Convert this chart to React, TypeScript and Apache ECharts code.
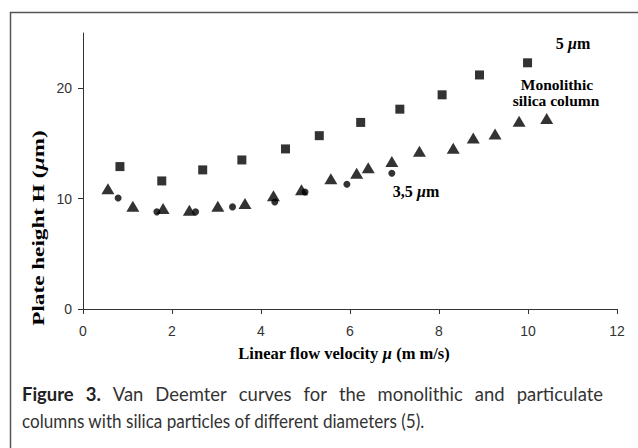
import React, { useEffect, useRef } from "react";
import * as echarts from "echarts";

// ---- data ----
const xTicks = [0, 2, 4, 6, 8, 10, 12];
const yTicks = [0, 10, 20];

// 5 µm particulate column (squares)
const p5X = [0.83, 1.77, 2.69, 3.57, 4.55, 5.31, 6.24, 7.12, 8.07, 8.91, 9.99];
const p5Y = [12.9, 11.6, 12.6, 13.5, 14.5, 15.7, 16.9, 18.1, 19.4, 21.2, 22.3];

// Monolithic silica column (triangles)
const monoX = [0.56, 1.12, 1.8, 2.39, 3.03, 3.64, 4.28, 4.91, 5.57, 6.15, 6.41, 6.94, 7.56, 8.32, 8.77, 9.26, 9.8, 10.42];
const monoY = [10.9, 9.3, 9.1, 8.95, 9.3, 9.55, 10.25, 10.8, 11.8, 12.3, 12.8, 13.35, 14.3, 14.55, 15.5, 15.85, 17.0, 17.25];

// 3,5 µm particulate column (circles)
const p35X = [0.79, 1.66, 2.53, 3.36, 4.31, 4.99, 5.93, 6.94];
const p35Y = [10.05, 8.8, 8.8, 9.25, 9.7, 10.6, 11.3, 12.3];

const captionLine1 = ["Figure", "3.", "Van", "Deemter", "curves", "for", "the", "monolithic", "and", "particulate"];
const captionBoldCount = 2;
const captionLine2 = "columns with silica particles of different diameters (5).";

const pair = (xs: number[], ys: number[]) => xs.map((x, i) => [x, ys[i]]);

export default function App() {
  const ref = useRef<HTMLDivElement>(null);

  useEffect(() => {
    if (!ref.current) return;
    const chart = echarts.init(ref.current, undefined, { renderer: "svg" });

    const capFont = 'Lato, "Open Sans", sans-serif';
    const capSize = 19;
    const canvas = document.createElement("canvas");
    const ctx = canvas.getContext("2d")!;
    ctx.font = `${capSize}px ${capFont}`;
    const line2W = ctx.measureText(captionLine2).width;
    const lineLeft = 22;
    const line2Right = 425;
    const sx2 = (line2Right - lineLeft) / line2W;
    const natural = captionLine1.map((w, i) => {
      ctx.font = `${i < captionBoldCount ? "bold " : ""}${capSize}px ${capFont}`;
      return ctx.measureText(w).width;
    });
    const lineRight = 603;
    const targetGap = 12;
    const naturalTotal = natural.reduce((a, b) => a + b, 0);
    const sx1 = (lineRight - lineLeft - targetGap * (captionLine1.length - 1)) / naturalTotal;
    const widths = natural.map((w) => w * sx1);
    const total = widths.reduce((a, b) => a + b, 0);
    const gap = (lineRight - lineLeft - total) / (captionLine1.length - 1);
    let cx = lineLeft;
    const captionEls: any[] = captionLine1.map((w, i) => {
      const el = {
        type: "text",
        x: cx,
        y: 394,
        scaleX: sx1,
        style: {
          text: w,
          fontFamily: capFont,
          fontSize: capSize,
          fontWeight: i < captionBoldCount ? "bold" : "normal",
          fill: i < captionBoldCount ? "#222" : "#333",
          textAlign: "left",
          verticalAlign: "middle",
        },
      };
      cx += widths[i] + gap;
      return el;
    });
    captionEls.push({
      type: "text",
      x: lineLeft,
      y: 421,
      scaleX: sx2,
      style: {
        text: captionLine2,
        fontFamily: capFont,
        fontSize: capSize,
        fill: "#333",
        textAlign: "left",
        verticalAlign: "middle",
      },
    });

    const serif = '"Liberation Serif", "Times New Roman", serif';
    const rich = (size: number) => ({
      b: { fontFamily: serif, fontWeight: "bold", fontSize: size, fill: "#000", color: "#000" },
      i: { fontFamily: serif, fontWeight: "bold", fontStyle: "italic", fontSize: size, fill: "#000", color: "#000" },
    });
    const tickFont = '"Liberation Sans", Arial, sans-serif';

    chart.setOption({
      animation: false,
      backgroundColor: "#fff",
      grid: { left: 83, right: 21, top: 33, bottom: 139, containLabel: false },
      xAxis: {
        type: "value",
        min: 0,
        max: 12,
        interval: 2,
        splitLine: { show: false },
        axisLine: { show: true, onZero: false, lineStyle: { color: "#333", width: 1 } },
        axisTick: { show: true, length: 5, lineStyle: { color: "#333" } },
        axisLabel: {
          margin: 15,
          fontFamily: tickFont,
          fontSize: 14,
          color: "#333",
          customValues: xTicks,
        },
      },
      yAxis: {
        type: "value",
        min: 0,
        max: 25,
        splitLine: { show: false },
        axisLine: { show: true, lineStyle: { color: "#333", width: 1 } },
        axisTick: { show: true, length: 5, lineStyle: { color: "#333" }, customValues: yTicks },
        axisLabel: {
          margin: 11,
          fontFamily: tickFont,
          fontSize: 14,
          color: "#333",
          customValues: yTicks,
        },
      },
      series: [
        {
          name: "5 µm",
          type: "scatter",
          symbol: "rect",
          symbolSize: 9,
          itemStyle: { color: "#000" },
          data: pair(p5X, p5Y),
        },
        {
          name: "Monolithic silica column",
          type: "scatter",
          symbol: "triangle",
          symbolSize: [13, 11],
          itemStyle: { color: "#000" },
          data: pair(monoX, monoY),
        },
        {
          name: "3,5 µm",
          type: "scatter",
          symbol: "circle",
          symbolSize: 7,
          itemStyle: { color: "#000" },
          data: pair(p35X, p35Y),
        },
      ],
      graphic: [
        { type: "line", shape: { x1: 10.5, y1: 12, x2: 10.5, y2: 448 }, style: { stroke: "#555", lineWidth: 1.5 } },
        { type: "line", shape: { x1: 10, y1: 12.5, x2: 638, y2: 12.5 }, style: { stroke: "#555", lineWidth: 1.5 } },
        {
          type: "text",
          x: 344,
          y: 353,
          style: {
            text: "{b|Linear flow velocity }{i|µ}{b| (m m/s)}",
            rich: rich(16.5),
            textAlign: "center",
            verticalAlign: "middle",
          },
        },
        {
          type: "text",
          x: 38,
          y: 228,
          rotation: Math.PI / 2,
          scaleX: 1.45,
          style: {
            text: "{b|Plate height H (}{i|µ}{b|m)}",
            rich: rich(16),
            textAlign: "center",
            verticalAlign: "middle",
          },
        },
        {
          type: "text",
          x: 573,
          y: 43,
          style: { text: "{b|5 }{i|µ}{b|m}", rich: rich(16), textAlign: "center", verticalAlign: "middle" },
        },
        {
          type: "text",
          x: 557,
          y: 84.5,
          style: {
            text: "Monolithic",
            fontFamily: serif,
            fontWeight: "bold",
            fontSize: 15.5,
            fill: "#000",
            textAlign: "center",
            verticalAlign: "middle",
          },
        },
        {
          type: "text",
          x: 556,
          y: 100.5,
          style: {
            text: "silica column",
            fontFamily: serif,
            fontWeight: "bold",
            fontSize: 15.5,
            fill: "#000",
            textAlign: "center",
            verticalAlign: "middle",
          },
        },
        {
          type: "text",
          x: 416,
          y: 191,
          style: { text: "{b|3,5 }{i|µ}{b|m}", rich: rich(16), textAlign: "center", verticalAlign: "middle" },
        },
        ...captionEls,
      ],
    });

    return () => chart.dispose();
  }, []);

  return (
    <div
      ref={ref}
      style={{ position: "absolute", left: 0, top: 0, width: 638, height: 448, background: "#fff" }}
    />
  );
}
